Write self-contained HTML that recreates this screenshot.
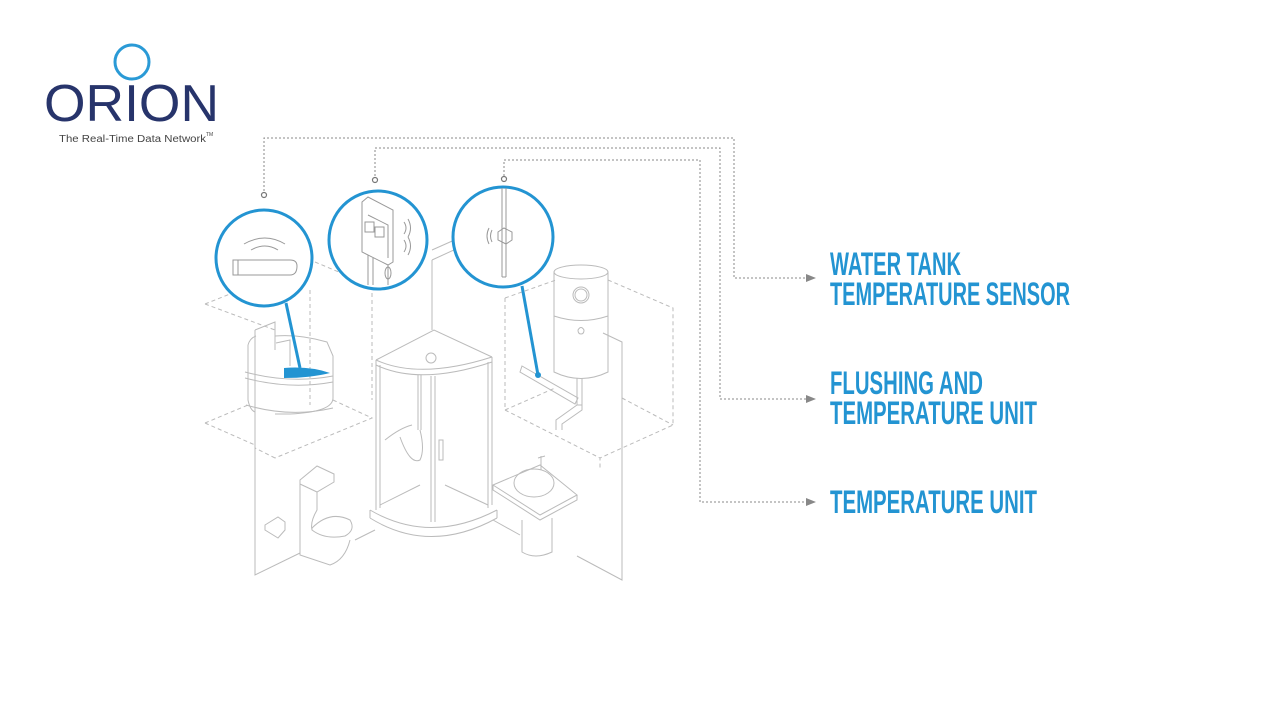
<!DOCTYPE html>
<html><head><meta charset="utf-8"><style>
html,body{margin:0;padding:0;background:#fff;width:1280px;height:720px;overflow:hidden}
svg{display:block}
</style></head><body>
<svg width="1280" height="720" viewBox="0 0 1280 720" xmlns="http://www.w3.org/2000/svg">
<!-- Logo -->
<circle cx="132" cy="62" r="17" fill="none" stroke="#2a9ad6" stroke-width="3"/>
<text x="44" y="121" font-family="Liberation Sans, sans-serif" font-size="52" fill="#27346b" textLength="175" lengthAdjust="spacingAndGlyphs">ORION</text>
<text x="59" y="142" font-family="Liberation Sans, sans-serif" font-size="10" fill="#444" textLength="147" lengthAdjust="spacingAndGlyphs">The Real-Time Data Network</text>
<text x="206" y="136" font-family="Liberation Sans, sans-serif" font-size="5" fill="#444">TM</text>

<!-- connectors -->
<g fill="none" stroke="#888" stroke-width="1" stroke-dasharray="2,2">
<path d="M264 191 V138 H734 V278 H806"/>
<path d="M375 176 V148 H720 V399 H806"/>
<path d="M504 176 V160 H700 V502 H806"/>
</g>
<g fill="#888">
<path d="M806 274 L816 278 L806 282Z"/>
<path d="M806 395 L816 399 L806 403Z"/>
<path d="M806 498 L816 502 L806 506Z"/>
</g>
<g fill="#fff" stroke="#777" stroke-width="1.2">
<circle cx="264" cy="195" r="2.5"/><circle cx="375" cy="180" r="2.5"/><circle cx="504" cy="179" r="2.5"/>
</g>

<!-- labels -->
<g font-family="Liberation Sans, sans-serif" font-weight="bold" font-size="32" fill="#2394d2">
<text x="830" y="275" textLength="131" lengthAdjust="spacingAndGlyphs">WATER TANK</text>
<text x="830" y="305" textLength="240" lengthAdjust="spacingAndGlyphs">TEMPERATURE SENSOR</text>
<text x="830" y="394" textLength="153" lengthAdjust="spacingAndGlyphs">FLUSHING AND</text>
<text x="830" y="424" textLength="207" lengthAdjust="spacingAndGlyphs">TEMPERATURE UNIT</text>
<text x="830" y="513" textLength="207" lengthAdjust="spacingAndGlyphs">TEMPERATURE UNIT</text>
</g>

<!-- dashed room planes -->
<g fill="none" stroke="#bbb" stroke-width="1" stroke-dasharray="4,3">
<path d="M205 304 L250 286"/><path d="M205 304 L275 330"/><path d="M315 262 L372 286"/>
<path d="M310 290 V405"/><path d="M372 286 V400"/>
<path d="M205 423 L248 405"/><path d="M205 423 L255 445"/>
<path d="M333 400 L372 418 L275 458"/><path d="M275 458 L255 448"/>
<path d="M505 298 L556 280"/><path d="M608 280 L673 308 V425 L600 458"/>
<path d="M505 298 V410 L600 458 V470"/><path d="M505 410 L555 388"/>
<path d="M622 398 L673 425"/>
</g>

<!-- walls -->
<g fill="none" stroke="#bbb" stroke-width="1">
<path d="M255 330 L275 322 V350"/>
<path d="M255 330 V575 L300 553"/>
<path d="M355 540 L375 530"/>
<path d="M432 260 V330"/><path d="M432 260 L480 238"/><path d="M432 250 L468 234"/>
<path d="M603 333 L622 342 V580 L577 556"/>
<path d="M493 520 L520 535"/>
</g>

<!-- water tank -->
<g fill="none" stroke="#bbb" stroke-width="1">
<path d="M248 345 Q250 338 256 336"/>
<path d="M275 336 Q300 334 327 342 L333 356 V398 Q333 412 290 414 Q275 414 275 414"/>
<path d="M248 345 V400 Q250 410 255 412"/>
<path d="M245 372 Q290 384 333 376"/><path d="M245 378 Q290 390 333 382"/>
<path d="M246 405 Q290 418 333 408"/>
<path d="M276 343 L290 340 L290 366"/>
</g>
<path d="M284 368 Q310 366 330 373 Q310 378 284 378Z" fill="#2394d2"/>

<!-- shower -->
<g fill="none" stroke="#bbb" stroke-width="1">
<path d="M376 360 L434 330 L492 357"/>
<path d="M376 360 Q420 380 492 357"/>
<path d="M376 365 Q420 386 492 362"/>
<path d="M376 360 V510"/><path d="M380 365 V508"/><path d="M492 357 V505"/><path d="M488 362 V508"/>
<path d="M431 376 V522"/><path d="M435 376 V522"/>
<path d="M370 510 Q430 545 497 510"/><path d="M370 518 Q430 555 497 518"/><path d="M370 510 V518"/><path d="M497 510 V518"/>
<path d="M380 505 L420 485"/><path d="M488 505 L445 485"/>
<path d="M418 375 V430"/><path d="M421 375 V430"/>
<circle cx="431" cy="358" r="5"/>
<path d="M385 440 Q400 428 412 425"/><path d="M400 437 Q410 465 420 460 Q425 450 420 430"/>
<path d="M439 440 V460 H443 V440Z"/>
</g>

<!-- toilet -->
<g fill="none" stroke="#bbb" stroke-width="1">
<path d="M300 480 L317 466 L334 474 V482 L317 492 L300 484Z"/>
<path d="M300 484 V555 L330 565 Q345 560 350 540"/>
<path d="M317 492 V510 Q310 522 312 530"/>
<path d="M312 528 Q330 510 350 520 Q356 530 345 536 Q325 540 312 530Z"/>
<path d="M265 525 L278 517 L285 522 V530 L278 538 L265 530Z"/>
</g>

<!-- sink -->
<g fill="none" stroke="#bbb" stroke-width="1">
<path d="M493 485 L540 465 L577 495 L540 515 Z"/><path d="M493 485 V490 L540 520 L577 500 V495"/>
<ellipse cx="534" cy="483" rx="20" ry="14"/>
<path d="M522 520 V552 Q535 560 552 552 V518"/>
<path d="M541 470 V456 M538 458 L545 456"/>
</g>

<!-- heater -->
<g fill="none" stroke="#bbb" stroke-width="1">
<ellipse cx="581" cy="272" rx="27" ry="7"/>
<path d="M554 272 V372 Q581 385 608 372 V272"/>
<path d="M554 316 Q581 325 608 316"/>
<circle cx="581" cy="295" r="8"/><circle cx="581" cy="295" r="6"/>
<path d="M578 330 Q581 325 584 330 Q584 334 581 334 Q578 334 578 330Z"/>
<path d="M522 366 L578 398 L575 404 L520 372Z"/>
<path d="M577 378 V405 H582 V378"/><path d="M577 405 L556 420 V430 M582 405 V410 L562 424 V430"/>
</g>
<circle cx="538" cy="375" r="3" fill="#2394d2"/>

<!-- blue leader lines -->
<g stroke="#2394d2" stroke-width="3" fill="none">
<path d="M286 303 L300 368"/>
<path d="M522 286 L538 375"/>
</g>

<!-- magnifier circles -->
<g fill="#fff" stroke="#2394d2" stroke-width="3">
<circle cx="264" cy="258" r="48"/>
<circle cx="378" cy="240" r="49"/>
<circle cx="503" cy="237" r="50"/>
</g>
<!-- circle 1 content -->
<g fill="none" stroke="#999" stroke-width="1">
<path d="M233 260 H290 Q297 260 297 266 Q297 275 290 275 H233Z"/><path d="M238 260 V275"/>
<path d="M244 244 Q265 232 285 244"/><path d="M251 250 Q265 242 278 250"/>
</g>
<!-- circle 2 content -->
<g fill="none" stroke="#999" stroke-width="1">
<path d="M362 202 L368 197 L393 210 V262 L388 265 L362 252Z"/>
<path d="M362 202 V252"/><path d="M368 215 L388 225 V258"/>
<rect x="365" y="222" width="9" height="10"/><rect x="375" y="227" width="9" height="10"/>
<path d="M368 255 V285 M373 258 V285 M388 265 V285"/>
<ellipse cx="388" cy="273" rx="3" ry="6"/>
<path d="M404 222 Q408 228 404 234 M408 219 Q413 228 408 237 M404 240 Q408 246 404 252 M408 237 Q413 246 408 255"/>
</g>
<!-- circle 3 content -->
<g fill="none" stroke="#999" stroke-width="1">
<path d="M502 188 V277 M506 188 V277 M502 277 H506"/>
<path d="M498 232 L504 228 L512 232 V240 L506 244 L498 240Z"/>
<path d="M492 230 Q489 236 492 242 M489 228 Q485 236 489 244"/>
</g>
</svg>
</body></html>
